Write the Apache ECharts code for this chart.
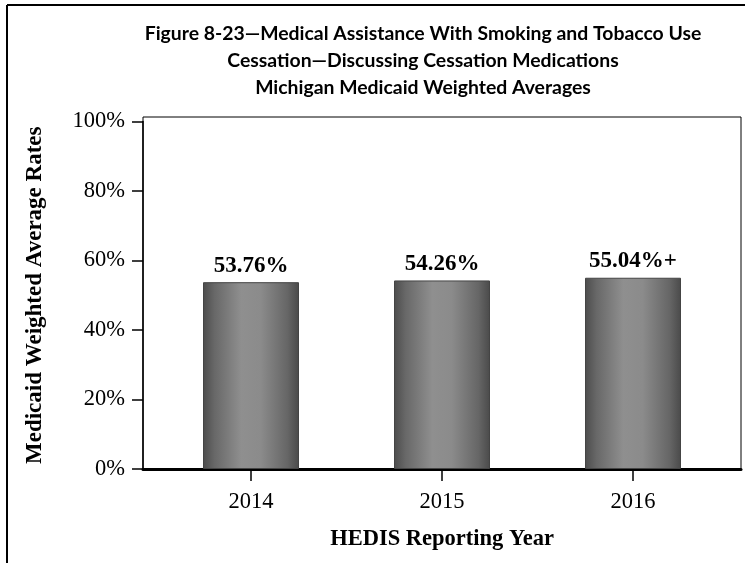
<!DOCTYPE html>
<html><head><meta charset="utf-8">
<script src="https://cdn.jsdelivr.net/npm/echarts@6/dist/echarts.min.js"></script>
<style>html,body{margin:0;padding:0;background:#fff}#c{width:745px;height:563px}</style>
</head><body><div id="c"></div>
<script>
const categories = ['2014', '2015', '2016'];
const rates = [53.76, 54.26, 55.04];
const labelSuffix = ['', '', '+'];
const yTicks = [0, 20, 40, 60, 80, 100];
const titleLines = ['Figure 8-23\u2014Medical Assistance With Smoking and Tobacco Use', 'Cessation\u2014Discussing Cessation Medications', 'Michigan Medicaid Weighted Averages'];
const yTitle = 'Medicaid Weighted Average Rates';
const xTitle = 'HEDIS Reporting Year';

const chart = echarts.init(document.getElementById('c'), null, {renderer: 'canvas'});
const serif = '"Liberation Serif", "Times New Roman", serif';
const barGrad = new echarts.graphic.LinearGradient(0, 0, 1, 0, [
  {offset: 0, color: '#4c4c4c'},
  {offset: 0.12, color: '#686868'},
  {offset: 0.4, color: '#8f8f8f'},
  {offset: 0.6, color: '#8b8b8b'},
  {offset: 0.88, color: '#666666'},
  {offset: 1, color: '#4a4a4a'}
]);
chart.setOption({
  animation: false,
  backgroundColor: '#fff',
  graphic: [
    {type: 'line', shape: {x1: 7, y1: 5, x2: 745, y2: 5}, style: {stroke: '#000', lineWidth: 2}},
    {type: 'line', shape: {x1: 7, y1: 5, x2: 7, y2: 563}, style: {stroke: '#000', lineWidth: 2}},
    {type: 'text', x: 423, y: 20, style: {text: titleLines.join('\n'), textAlign: 'center', font: 'bold 19.4px Lato, "Noto Sans", sans-serif', lineHeight: 27, fill: '#000'}}
  ],
  grid: [
    {left: 143, right: 4, top: 117, bottom: 94, show: true, borderColor: '#000', borderWidth: 1, backgroundColor: 'transparent'},
    {left: 155.5, right: 16.5, top: 121.5, bottom: 94}
  ],
  xAxis: [
    {gridIndex: 0, type: 'value', min: 0, max: 1, axisLine: {show: true, onZero: false, lineStyle: {color: '#000', width: 3}}, axisTick: {show: false}, axisLabel: {show: false}, splitLine: {show: false}},
    {gridIndex: 1, type: 'category', data: categories, axisLine: {show: false}, axisTick: {show: true, alignWithLabel: true, length: 12, lineStyle: {color: '#000', width: 1.5}},
     axisLabel: {margin: 22, color: '#000', fontFamily: serif, fontSize: 22.5},
     name: xTitle, nameLocation: 'middle', nameGap: 59, nameTextStyle: {color: '#000', fontFamily: serif, fontSize: 22.5, fontWeight: 'bold'}}
  ],
  yAxis: [
    {gridIndex: 0, type: 'value', min: 0, max: 1, show: false},
    {gridIndex: 1, type: 'value', min: yTicks[0], max: yTicks[yTicks.length - 1], interval: yTicks[1] - yTicks[0], offset: 12.5,
     axisLine: {show: true, lineStyle: {color: '#000', width: 1.5}}, axisTick: {show: true, length: 11, lineStyle: {color: '#000', width: 1.5}},
     axisLabel: {margin: 18, color: '#000', fontFamily: serif, fontSize: 22.5, formatter: '{value}%'}, splitLine: {show: false},
     name: yTitle, nameLocation: 'middle', nameGap: 96, nameTextStyle: {color: '#000', fontFamily: serif, fontSize: 23, fontWeight: 'bold'}}
  ],
  series: [{
    type: 'bar', xAxisIndex: 1, yAxisIndex: 1, barWidth: 96,
    data: rates,
    itemStyle: {color: barGrad, borderColor: '#444', borderWidth: 1},
    label: {show: true, position: 'top', distance: 5, color: '#000', fontFamily: serif, fontSize: 23, fontWeight: 'bold',
      formatter: p => p.value.toFixed(2) + '%' + labelSuffix[p.dataIndex]}
  }]
});
</script></body></html>
